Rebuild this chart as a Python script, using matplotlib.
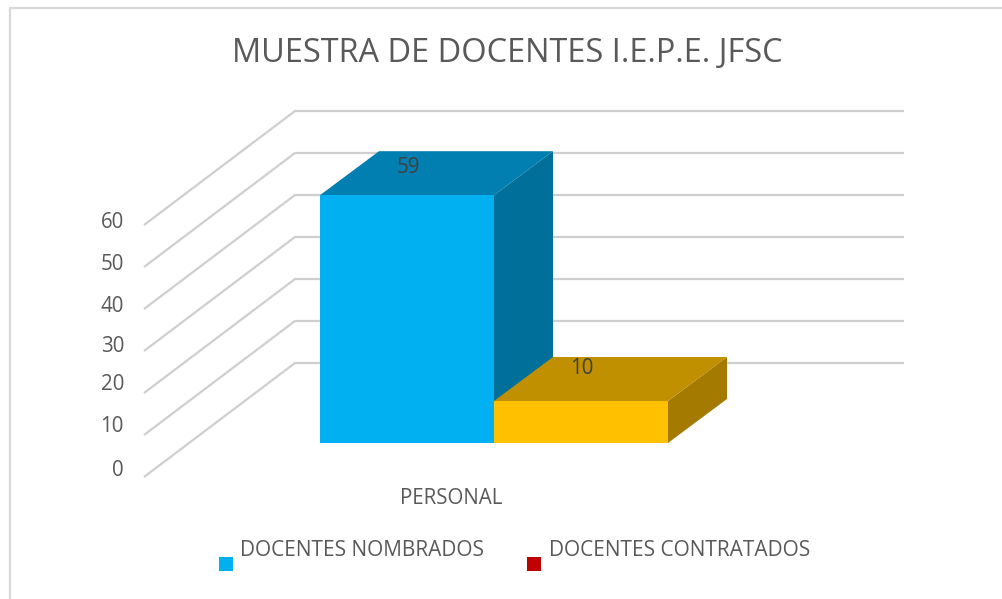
"""
3D-look column chart, drawn on a pixel-sized axes
"""
import matplotlib
matplotlib.use("Agg")
import matplotlib.pyplot as plt
from matplotlib.patches import Polygon, Rectangle

TITLE = "MUESTRA DE DOCENTES I.E.P.E. JFSC"
CATEGORY = "PERSONAL"
SERIES = ["DOCENTES NOMBRADOS", "DOCENTES CONTRATADOS"]
VALUES = [59, 10]
TICKS = [0, 10, 20, 30, 40, 50, 60]

BAR_COLORS = [("#00B0F0", "#007FB0", "#00709A"), ("#FFC000", "#C09000", "#A47B00")]
LEGEND_COLORS = ["#00B0F0", "#C00000"]
TEXT_COLOR = "#595959"
LABEL_COLOR = "#404040"
GRID_COLOR = "#CFCFCF"

# layout, in pixels of the 1002x599 picture
FLOOR_LEFT = 144
FLOOR_FRONT = 477
BACK_X = 295
BACK_Y = 363
GRID_END = 904
PX_PER_UNIT = 4.2
BAR_BOTTOM = 443
BAR_LEFT = 320
BAR_WIDTH = 174
DEPTH_X = 59
DEPTH_Y = 44
TICK_OFFSET = [-7, -9, -8, -5, -3, -3, -3]
LABEL_OFFSET = [-28, -33]

plt.rcParams["font.family"] = ["Open Sans", "DejaVu Sans"]

fig = plt.figure(figsize=(10.02, 5.99), dpi=100)
ax = fig.add_axes([0, 0, 1, 1])
ax.set_xlim(0, 1002)
ax.set_ylim(599, 0)
ax.axis("off")


def scale(value):
    return value * PX_PER_UNIT


# outer frame
ax.plot([10, 10, 1002], [599, 7.5, 7.5], color="#D9D9D9", lw=1.6, zorder=1)

# gridlines on the floor/back wall
for tick, nudge in zip(TICKS, TICK_OFFSET):
    h = scale(tick)
    ax.plot([FLOOR_LEFT, BACK_X, GRID_END], [FLOOR_FRONT - h, BACK_Y - h, BACK_Y - h],
            color=GRID_COLOR, lw=1.6, solid_joinstyle="miter", solid_capstyle="butt", zorder=1)
    ax.text(124, FLOOR_FRONT - h + nudge, str(tick), ha="right", va="center",
            fontsize=14.8, color=TEXT_COLOR)

# the second bar's roof covers the foot of the first bar's side face
for i in [0, 1]:
    x0 = BAR_LEFT + i * BAR_WIDTH
    x1 = x0 + BAR_WIDTH
    top = BAR_BOTTOM - scale(VALUES[i])
    front, roof, side = BAR_COLORS[i]
    ax.add_patch(Polygon([(x1, BAR_BOTTOM), (x1 + DEPTH_X, BAR_BOTTOM - DEPTH_Y),
                          (x1 + DEPTH_X, top - DEPTH_Y), (x1, top)],
                         facecolor=side, edgecolor="none", zorder=2 + i))
    ax.add_patch(Polygon([(x0, top), (x0 + DEPTH_X, top - DEPTH_Y),
                          (x1 + DEPTH_X, top - DEPTH_Y), (x1, top)],
                         facecolor=roof, edgecolor="none", zorder=2 + i))
    ax.add_patch(Rectangle((x0, top), BAR_WIDTH, scale(VALUES[i]),
                           facecolor=front, edgecolor="none", zorder=2.5 + i))
    ax.text(x0 + 88, top + LABEL_OFFSET[i], str(VALUES[i]), ha="center", va="center",
            fontsize=14.8, color=LABEL_COLOR, zorder=5)

ax.text(451, 499, CATEGORY, ha="center", va="center", fontsize=14.8, color=TEXT_COLOR)
ax.text(507, 53, TITLE, ha="center", va="center", fontsize=23.4, color=TEXT_COLOR)

# legend
for name, color, box_x, text_x in zip(SERIES, LEGEND_COLORS, [219, 527], [240, 549]):
    ax.add_patch(Rectangle((box_x, 557), 14, 14, facecolor=color, edgecolor="none"))
    ax.text(text_x, 551, name, ha="left", va="center", fontsize=15, color=TEXT_COLOR)

fig.savefig("out.png", dpi=100)
